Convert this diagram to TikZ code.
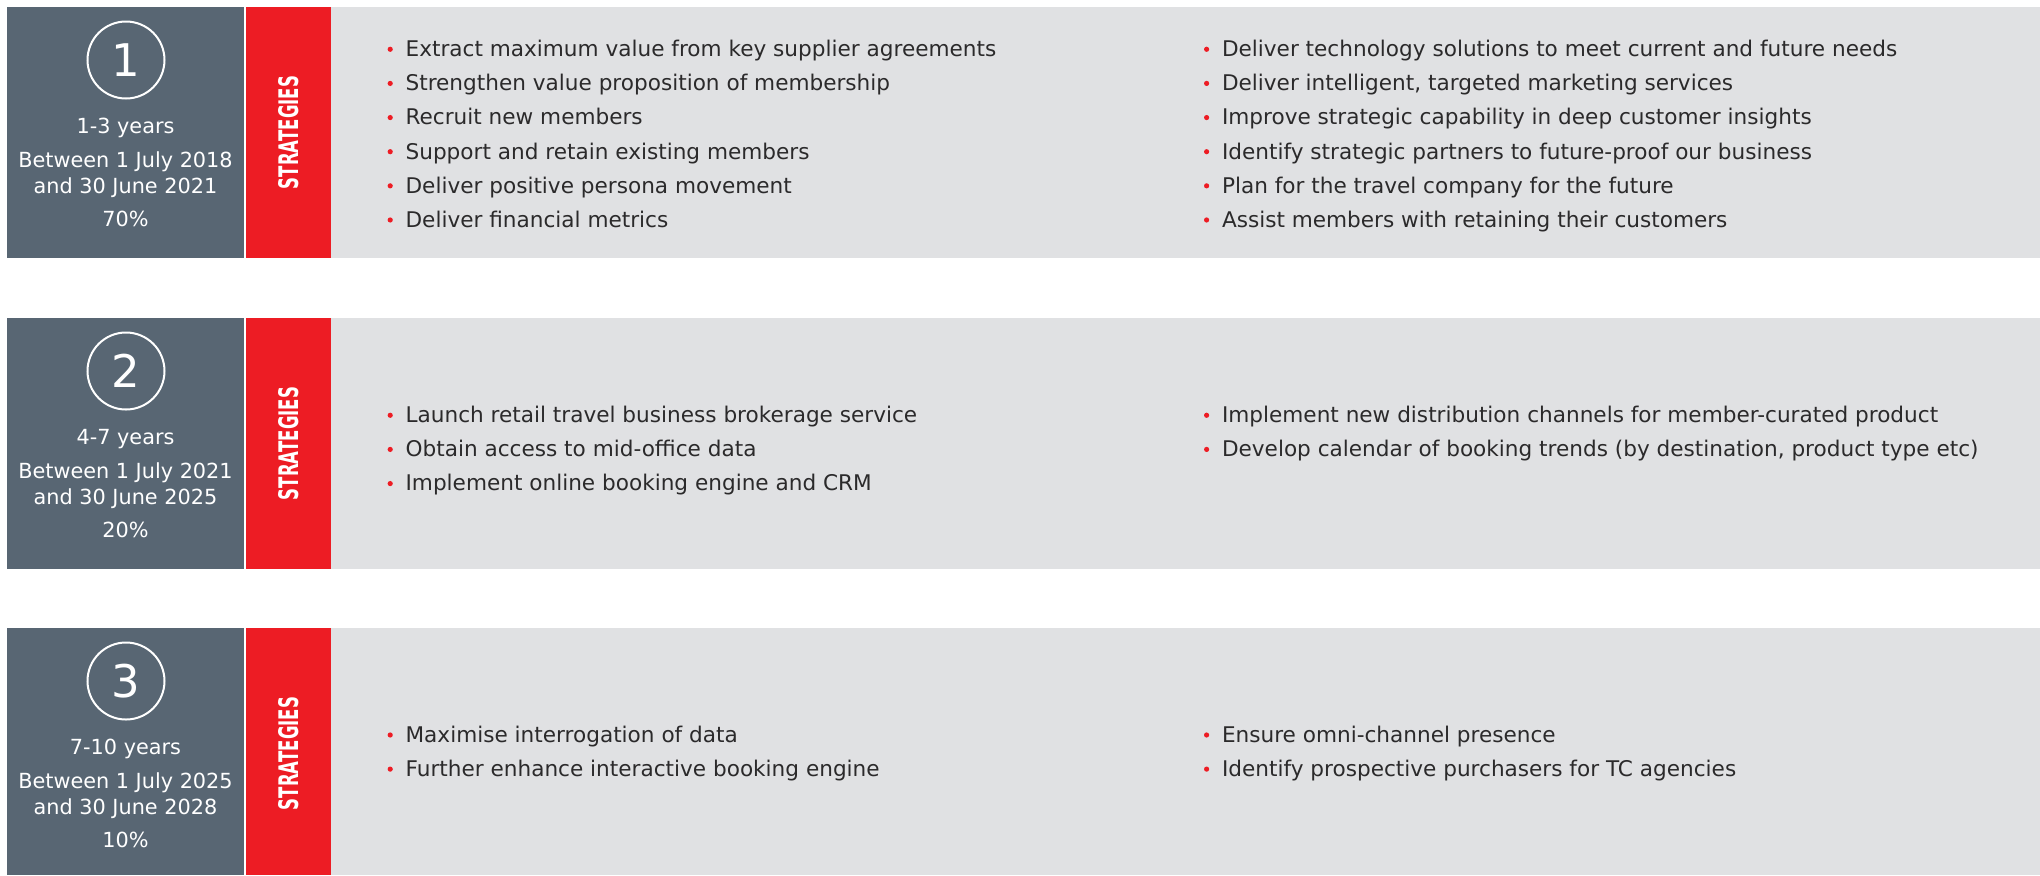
\documentclass[tikz,border=0pt]{standalone}
\usepackage{graphicx}
\usepackage{fontspec}
\setmainfont{DejaVu Sans}
\usetikzlibrary{positioning}

\definecolor{slate}{HTML}{586673}
\definecolor{stratred}{HTML}{ED1C24}
\definecolor{panelgray}{HTML}{E0E1E3}
\definecolor{inktext}{HTML}{2B2A2B}

\newcommand{\strattext}{\resizebox{56.5pt}{10pt}{\bfseries STRATEGIES}}

\tikzset{
	panel/.style={anchor=north west, inner sep=0pt, minimum height=125.5pt},
	period/.style={panel, fill=slate, minimum width=118.5pt},
	tagband/.style={panel, fill=stratred, minimum width=42.5pt},
	planband/.style={panel, fill=panelgray, minimum width=854.5pt},
	stepnum/.style={circle, draw=white, line width=1pt, minimum size=38.5pt, inner sep=0pt,
		text=white, font=\fontsize{22.5}{22.5}\selectfont},
	when/.style={anchor=base, inner sep=0pt, text=white, font=\fontsize{10.4}{12}\selectfont},
	tagtext/.style={rotate=90, inner sep=0pt, text=white},
	dot/.style={circle, fill=stratred, inner sep=0pt, minimum size=2.6pt, label distance=6.2pt},
	item/.style={inner xsep=0pt, inner ysep=0pt, outer sep=0pt, text height=12.2pt, text depth=4.87pt,
		text=inktext, font=\fontsize{10.8}{12}\selectfont, label={[dot]left:}}
}

\begin{document}
\begin{tikzpicture}[x=0.5pt, y=-0.5pt]
		\useasboundingbox (0,0) rectangle (2040,875);
		% row 1
		\node[period] (period1) at (7,7) {};
		\node[tagband] (tag1) at (246,7) {};
		\node[planband] (plan1) at (331,7) {};
		\node[stepnum] (num1) at (126,60) {1};
		\node[when] (span1) at (125.5,133) {1-3 years};
		\node[when] (from1) at (125.5,167.5) {Between 1 July 2018};
		\node[when] (to1) at (125.5,193) {and 30 June 2021};
		\node[when] (share1) at (125.5,226) {70\%};
		\node[tagtext] (label1) at (288.5,132.5) {\strattext};
		\node[item, anchor=base west] (a1) at (405.6,56.6) {Extract maximum value from key supplier agreements};
		\node[item, below=0pt of a1.south west, anchor=north west] (a2) {Strengthen value proposition of membership};
		\node[item, below=0pt of a2.south west, anchor=north west] (a3) {Recruit new members};
		\node[item, below=0pt of a3.south west, anchor=north west] (a4) {Support and retain existing members};
		\node[item, below=0pt of a4.south west, anchor=north west] (a5) {Deliver positive persona movement};
		\node[item, below=0pt of a5.south west, anchor=north west] (a6) {Deliver financial metrics};
		\node[item, anchor=base west] (b1) at (1222,56.6) {Deliver technology solutions to meet current and future needs};
		\node[item, below=0pt of b1.south west, anchor=north west] (b2) {Deliver intelligent, targeted marketing services};
		\node[item, below=0pt of b2.south west, anchor=north west] (b3) {Improve strategic capability in deep customer insights};
		\node[item, below=0pt of b3.south west, anchor=north west] (b4) {Identify strategic partners to future-proof our business};
		\node[item, below=0pt of b4.south west, anchor=north west] (b5) {Plan for the travel company for the future};
		\node[item, below=0pt of b5.south west, anchor=north west] (b6) {Assist members with retaining their customers};
		% row 2
		\node[period] (period2) at (7,318) {};
		\node[tagband] (tag2) at (246,318) {};
		\node[planband] (plan2) at (331,318) {};
		\node[stepnum] (num2) at (126,371) {2};
		\node[when] (span2) at (125.5,444) {4-7 years};
		\node[when] (from2) at (125.5,478.5) {Between 1 July 2021};
		\node[when] (to2) at (125.5,504) {and 30 June 2025};
		\node[when] (share2) at (125.5,537) {20\%};
		\node[tagtext] (label2) at (288.5,443.5) {\strattext};
		\node[item, anchor=base west] (c1) at (405.6,422.6) {Launch retail travel business brokerage service};
		\node[item, below=0pt of c1.south west, anchor=north west] (c2) {Obtain access to mid-office data};
		\node[item, below=0pt of c2.south west, anchor=north west] (c3) {Implement online booking engine and CRM};
		\node[item, anchor=base west] (d1) at (1222,422.6) {Implement new distribution channels for member-curated product};
		\node[item, below=0pt of d1.south west, anchor=north west] (d2) {Develop calendar of booking trends (by destination, product type etc)};
		% row 3
		\node[period, minimum height=123.5pt] (period3) at (7,628) {};
		\node[tagband, minimum height=123.5pt] (tag3) at (246,628) {};
		\node[planband, minimum height=123.5pt] (plan3) at (331,628) {};
		\node[stepnum] (num3) at (126,681) {3};
		\node[when] (span3) at (125.5,754) {7-10 years};
		\node[when] (from3) at (125.5,788.5) {Between 1 July 2025};
		\node[when] (to3) at (125.5,814) {and 30 June 2028};
		\node[when] (share3) at (125.5,847) {10\%};
		\node[tagtext] (label3) at (288.5,753.5) {\strattext};
		\node[item, anchor=base west] (e1) at (405.6,742.3) {Maximise interrogation of data};
		\node[item, below=0pt of e1.south west, anchor=north west] (e2) {Further enhance interactive booking engine};
		\node[item, anchor=base west] (f1) at (1222,742.3) {Ensure omni-channel presence};
		\node[item, below=0pt of f1.south west, anchor=north west] (f2) {Identify prospective purchasers for TC agencies};
\end{tikzpicture}
\end{document}
